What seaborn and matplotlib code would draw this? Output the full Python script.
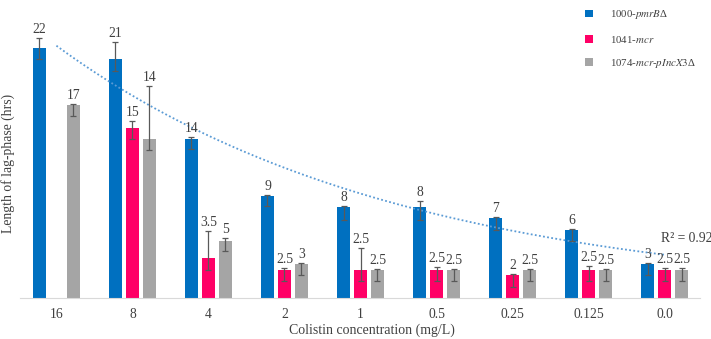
import numpy as np
import pandas as pd
import matplotlib
import matplotlib.pyplot as plt
import seaborn as sns

matplotlib.use('Agg')

# Data
concentrations = ['16', '8', '4', '2', '1', '0.5', '0.25', '0.125', '0.0']
strains = ['1000-$\\mathit{pmrB}$Δ', '1041-$\\mathit{mcr}$', '1074-$\\mathit{mcr}$-$\\mathit{pIncX3}$Δ']

lag_pmrb = [22, 21, 14, 9, 8, 8, 7, 6, 3]
lag_mcr = [np.nan, 15, 3.5, 2.5, 2.5, 2.5, 2, 2.5, 2.5]
lag_pincx3 = [17, 14, 5, 3, 2.5, 2.5, 2.5, 2.5, 2.5]

# asymmetric error bars (lower, upper)
err_lo_pmrb = [1.0, 1.0, 0.9, 0.9, 1.1, 1.1, 1.0, 1.0, 1.0]
err_hi_pmrb = [0.9, 1.5, 0.2, 0.1, 0.1, 0.55, 0.1, 0.1, 0.1]
err_lo_mcr = [np.nan, 1.0, 1.0, 1.0, 1.0, 1.0, 1.0, 1.0, 1.0]
err_hi_mcr = [np.nan, 0.6, 2.4, 0.1, 1.9, 0.2, 0.1, 0.3, 0.1]
err_lo_pincx3 = [1.0, 1.0, 0.9, 1.0, 1.0, 1.0, 1.0, 1.0, 1.0]
err_hi_pincx3 = [0.1, 4.7, 0.3, 0.1, 0.05, 0.05, 0.05, 0.05, 0.1]

colors = ['#0070C0', '#FF0066', '#A5A5A5']
text_color = '#404040'

plt.rcParams['font.family'] = ['Liberation Serif', 'DejaVu Serif']
plt.rcParams['mathtext.fontset'] = 'stix'

series = [lag_pmrb, lag_mcr, lag_pincx3]
err_lo = [err_lo_pmrb, err_lo_mcr, err_lo_pincx3]
err_hi = [err_hi_pmrb, err_hi_mcr, err_hi_pincx3]

rows = []
for strain, vals in zip(strains, series):
    for conc, v in zip(concentrations, vals):
        rows.append({'Concentration': conc, 'Strain': strain, 'Lag': v})
df = pd.DataFrame(rows).dropna()

fig = plt.figure(figsize=(7.11, 3.39), dpi=100)
ax = fig.add_axes([0.028, 0.121, 0.957, 0.871])

sns.barplot(data=df, x='Concentration', y='Lag', hue='Strain',
            order=concentrations, hue_order=strains, palette=colors,
            saturation=1, width=0.67, gap=0.2, errorbar=None, ax=ax)

# error bars and value labels
bar_containers = list(ax.containers)
for k, cont in enumerate(bar_containers):
    idx = [i for i in range(len(concentrations)) if not np.isnan(series[k][i])]
    for bar, i in zip(cont, idx):
        x = bar.get_x() + bar.get_width() / 2
        v = series[k][i]
        lo, hi = err_lo[k][i], err_hi[k][i]
        ax.errorbar(x, v, yerr=[[lo], [hi]], fmt='none', ecolor='#595959',
                    elinewidth=0.9, capsize=2.5, capthick=0.9, zorder=3)
        ax.annotate(f'{v:g}', (x, v + hi), xytext=(0, 1.5),
                    textcoords='offset points', ha='center', va='bottom',
                    fontsize=9.8, color=text_color)

# exponential trendline on the first series
xs = np.arange(1, len(lag_pmrb) + 1)
b, lna = np.polyfit(xs, np.log(lag_pmrb), 1)
pred = lna + b * xs
ly = np.log(lag_pmrb)
r2 = 1 - np.sum((ly - pred) ** 2) / np.sum((ly - ly.mean()) ** 2)
xt = np.linspace(1, len(xs), 200)
ax.plot(xt - 1, np.exp(lna + b * xt), linestyle=(0, (1, 1.3)),
        color='#5B9BD5', linewidth=1.3, zorder=2)
ax.text(len(xs) - 1 - 0.05, 4.7, f'R² = {r2:.2f}', fontsize=9.8,
        color=text_color, ha='left', va='bottom')

ax.set_xlim(-0.48, 8.47)
ax.set_ylim(0, 26)
ax.set_xlabel('')
ax.set_ylabel('')
ax.set_yticks([])
for side in ['top', 'right', 'left']:
    ax.spines[side].set_visible(False)
ax.spines['bottom'].set_color('#D9D9D9')
ax.tick_params(axis='x', length=0, pad=7, labelsize=9.8, labelcolor=text_color)
ax.set_facecolor('none')

fig.text(8 / 711, 1 - 163 / 339, 'Length of lag-phase (hrs)', rotation=90,
         ha='center', va='center', fontsize=9.8, color=text_color)
fig.text(372 / 711, 1 - 330 / 339, 'Colistin concentration (mg/L)',
         ha='center', va='center', fontsize=10, color=text_color)

handles, labels = ax.get_legend_handles_labels()
ax.legend(handles, labels, loc='upper left', bbox_to_anchor=(577 / 711, 1.0),
          bbox_transform=fig.transFigure, frameon=False, fontsize=7.8,
          handlelength=0.7, handleheight=0.7, handletextpad=1.6,
          labelspacing=1.15, labelcolor=text_color, borderaxespad=0.35)

fig.savefig('out.png', dpi=100)
